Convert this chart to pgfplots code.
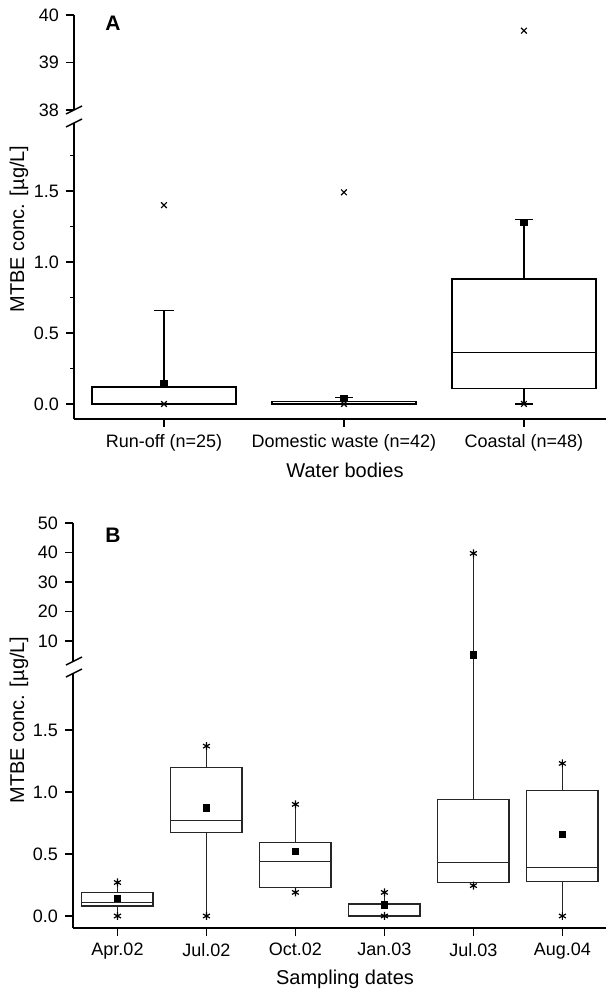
\documentclass[border=0pt]{standalone}
\usepackage{pgfplots}
\pgfplotsset{compat=1.18}
\usepgfplotslibrary{statistics}
\usepackage{fontspec}
\setmainfont{Liberation Sans}

\pgfplotsset{
  brk/.style={
    scale only axis, anchor=south west,
    boxplot/draw direction=y,
    tick align=outside, major tick length=4pt, minor tick length=2pt,
    axis line style={line width=0.75pt},
    every tick/.style={line width=0.75pt, black},
    tick label style={font=\fontsize{9}{10}\selectfont},
    /pgf/number format/assume math mode=true,
  },
  bxA/.style={black, line width=0.6pt},
  bxB/.style={black!85, line width=0.6pt},
}

\begin{document}
\begin{tikzpicture}
\useasboundingbox (0,0) rectangle (303pt,-495pt);

% ---------- panel A, upper segment
\begin{axis}[brk, at={(37pt,-55pt)}, width=266pt, height=47.5pt,
  xmin=0.5, xmax=3.456, ymin=38, ymax=40, ytick={38,39,40},
  axis x line=none, axis y line*=left]
\addplot[only marks, mark=x, mark size=2pt, black, line width=0.6pt] coordinates {(3,39.67)};
\end{axis}

% ---------- panel A, lower segment
\begin{axis}[brk, at={(37pt,-209.5pt)}, width=266pt, height=154.5pt,
  xmin=0.5, xmax=3.456, ymin=-0.106, ymax=2.07,
  ytick={0,0.5,1,1.5}, minor ytick={0.25,0.75,1.25,1.75},
  yticklabel style={/pgf/number format/.cd, fixed, fixed zerofill, precision=1},
  axis x line*=bottom, axis y line*=left,
  xtick={1,2,3},
  xticklabels={Run-off (n=25), Domestic waste (n=42), Coastal (n=48)}]
\addplot[bxA, boxplot prepared={draw position=1, lower whisker=0, lower quartile=0,
  median=0, upper quartile=0.12, upper whisker=0.66, box extend=0.8, whisker extend=0.11}] coordinates {};
\addplot[bxA, boxplot prepared={draw position=2, lower whisker=0, lower quartile=0,
  median=0.005, upper quartile=0.02, upper whisker=0.045, box extend=0.8, whisker extend=0.1}] coordinates {};
\addplot[bxA, boxplot prepared={draw position=3, lower whisker=0, lower quartile=0.11,
  median=0.36, upper quartile=0.88, upper whisker=1.30, box extend=0.8, whisker extend=0.1}] coordinates {};
\addplot[only marks, mark=x, mark size=2pt, black, line width=0.6pt] coordinates {(1,1.40) (1,0) (2,1.49) (2,0) (3,0)};
\addplot[only marks, mark=square*, mark size=1.6pt, black] coordinates {(1,0.14) (2,0.04) (3,1.28)};
\end{axis}

% ---------- panel B, upper segment
\begin{axis}[brk, at={(36.5pt,-330.5pt)}, width=266.5pt, height=69pt,
  xmin=0.5, xmax=6.49, ymin=3.2, ymax=50, ytick={10,20,30,40,50},
  axis x line=none, axis y line*=left]
\addplot[bxB, boxplot prepared={draw position=5, lower whisker=0.245, lower quartile=0.27,
  median=0.43, upper quartile=0.94, upper whisker=39.7, box extend=0.8, whisker extend=0}] coordinates {};
\addplot[only marks, mark=asterisk, mark size=2pt, black, line width=0.6pt] coordinates {(5,39.7)};
\addplot[only marks, mark=square*, mark size=1.6pt, black] coordinates {(5,5.3)};
\end{axis}

% ---------- panel B, lower segment
\begin{axis}[brk, at={(36.5pt,-464pt)}, width=266.5pt, height=133.5pt,
  xmin=0.5, xmax=6.49, ymin=-0.097, ymax=2.056,
  ytick={0,0.5,1,1.5},
  yticklabel style={/pgf/number format/.cd, fixed, fixed zerofill, precision=1},
  axis x line*=bottom, axis y line*=left,
  xtick={1,2,3,4,5,6},
  xticklabels={Apr.02, Jul.02, Oct.02, Jan.03, Jul.03, Aug.04}]
\addplot[bxB, boxplot prepared={draw position=1, lower whisker=0, lower quartile=0.08,
  median=0.11, upper quartile=0.19, upper whisker=0.27, box extend=0.8, whisker extend=0}] coordinates {};
\addplot[bxB, boxplot prepared={draw position=2, lower whisker=0, lower quartile=0.67,
  median=0.77, upper quartile=1.20, upper whisker=1.37, box extend=0.8, whisker extend=0}] coordinates {};
\addplot[bxB, boxplot prepared={draw position=3, lower whisker=0.19, lower quartile=0.23,
  median=0.44, upper quartile=0.59, upper whisker=0.90, box extend=0.8, whisker extend=0}] coordinates {};
\addplot[bxB, boxplot prepared={draw position=4, lower whisker=0, lower quartile=0,
  median=0.095, upper quartile=0.10, upper whisker=0.19, box extend=0.8, whisker extend=0}] coordinates {};
\addplot[bxB, boxplot prepared={draw position=5, lower whisker=0.245, lower quartile=0.27,
  median=0.43, upper quartile=0.94, upper whisker=39.7, box extend=0.8, whisker extend=0}] coordinates {};
\addplot[bxB, boxplot prepared={draw position=6, lower whisker=0, lower quartile=0.28,
  median=0.39, upper quartile=1.01, upper whisker=1.23, box extend=0.8, whisker extend=0}] coordinates {};
\addplot[only marks, mark=asterisk, mark size=2pt, black, line width=0.6pt] coordinates {
  (1,0.27) (1,0) (2,1.37) (2,0) (3,0.90) (3,0.19) (4,0.19) (4,0) (5,0.245) (6,1.23) (6,0)};
\addplot[only marks, mark=square*, mark size=1.6pt, black] coordinates {
  (1,0.14) (2,0.87) (3,0.52) (4,0.09) (6,0.66)};
\end{axis}

% axis breaks
\fill[white] (33pt,-57pt) -- (41pt,-53pt) -- (41pt,-59.5pt) -- (33pt,-63.5pt) -- cycle;
\draw[line width=0.75pt] (33pt,-57pt) -- (41pt,-53pt) (33pt,-63.5pt) -- (41pt,-59.5pt);
\fill[white] (33pt,-332.5pt) -- (41pt,-328.5pt) -- (41pt,-334.5pt) -- (33pt,-338.5pt) -- cycle;
\draw[line width=0.75pt] (33pt,-332.5pt) -- (41pt,-328.5pt) (33pt,-338.5pt) -- (41pt,-334.5pt);

% panel letters and axis titles
\node[font=\bfseries\fontsize{10.5}{12}\selectfont] at (56.5pt,-11.5pt) {A};
\node[font=\bfseries\fontsize{10.5}{12}\selectfont] at (56.5pt,-267.5pt) {B};
\node[rotate=90, font=\fontsize{10}{12}\selectfont] at (9.5pt,-114.5pt) {MTBE conc. [µg/L]};
\node[rotate=90, font=\fontsize{10}{12}\selectfont] at (9.5pt,-360pt) {MTBE conc. [µg/L]};
\node[font=\fontsize{10}{12}\selectfont] at (172.5pt,-235pt) {Water bodies};
\node[font=\fontsize{10}{12}\selectfont] at (172.5pt,-489.5pt) {Sampling dates};
\end{tikzpicture}
\end{document}
